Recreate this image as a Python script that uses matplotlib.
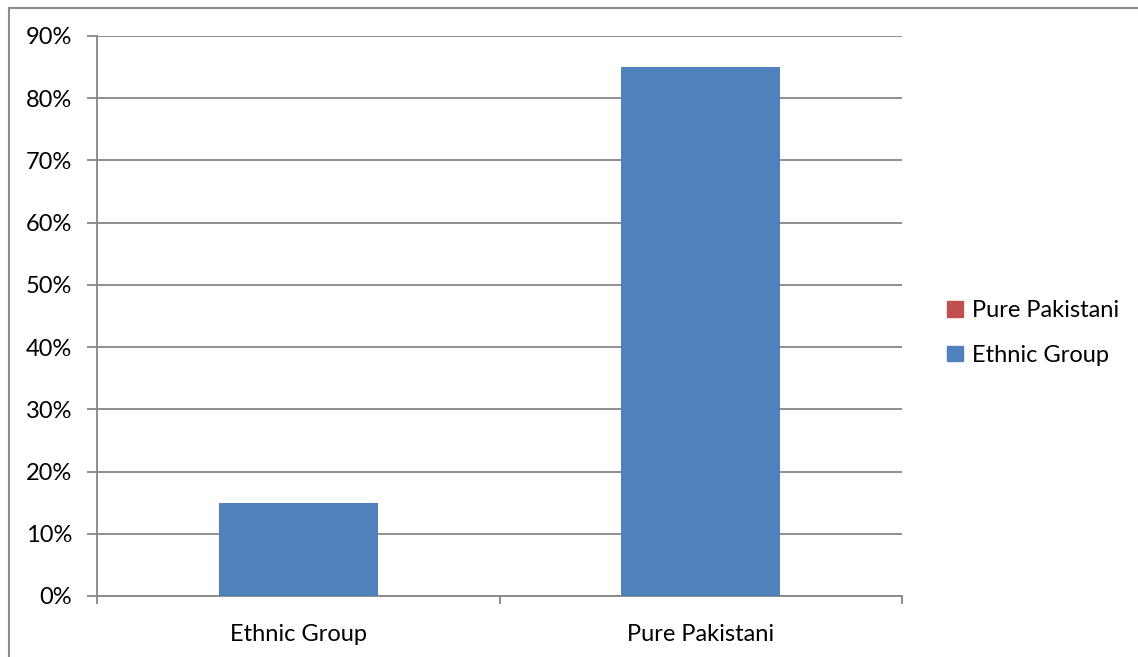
import numpy as np
import matplotlib.pyplot as plt
from matplotlib.patches import Patch, Rectangle
from matplotlib.ticker import PercentFormatter

categories = ['Ethnic Group', 'Pure Pakistani']
ethnic_group = [15, 85]
pure_pakistani = [0, 0]
y_ticks = [0, 10, 20, 30, 40, 50, 60, 70, 80, 90]

plt.rcParams['font.family'] = ['Lato', 'DejaVu Sans']

fig = plt.figure(figsize=(11.38, 6.57), dpi=100)
ax = fig.add_axes([97 / 1138, 61 / 657, 805 / 1138, 560 / 657])

blue = '#4F81BD'
red = '#C0504D'
grid_c = '#868686'

x = np.arange(len(categories))
ax.bar(x, ethnic_group, width=0.395, color=blue, zorder=3)
ax.bar(x, pure_pakistani, width=0.395, bottom=ethnic_group, color=red, zorder=3)

ax.set_xlim(-0.5, len(categories) - 0.5)
ax.set_ylim(0, 90)
ax.set_yticks(y_ticks)
ax.yaxis.set_major_formatter(PercentFormatter(decimals=0))
ax.yaxis.grid(True, color=grid_c, linewidth=1.3, zorder=0)

ax.set_xticks(x)
ax.set_xticklabels(categories)
ax.set_xticks(np.arange(-0.5, len(categories)), minor=True)
ax.tick_params(axis='x', which='major', length=0, pad=20, labelsize=17)
ax.tick_params(axis='x', which='minor', length=6, width=1.3, color=grid_c)
ax.tick_params(axis='y', length=7, width=1.3, color=grid_c, pad=11, labelsize=17)

for side in ['top', 'right']:
    ax.spines[side].set_visible(False)
for side in ['left', 'bottom']:
    ax.spines[side].set_color(grid_c)
    ax.spines[side].set_linewidth(1.3)

# outer chart border
fig.patches.append(Rectangle((9 / 1138, -0.05), 1.2, (657 - 8) / 657 + 0.05,
                             transform=fig.transFigure, fill=False,
                             edgecolor='#8c8c8c', linewidth=1.5))

handles = [Patch(color=red, label='Pure Pakistani'), Patch(color=blue, label='Ethnic Group')]
fig.legend(handles=handles, loc='center left', bbox_to_anchor=(926 / 1138, 1 - 333 / 657),
           frameon=False, fontsize=17, handlelength=0.65, handleheight=0.65,
           handletextpad=0.38, labelspacing=1.0)

fig.savefig('out.png', dpi=100)
